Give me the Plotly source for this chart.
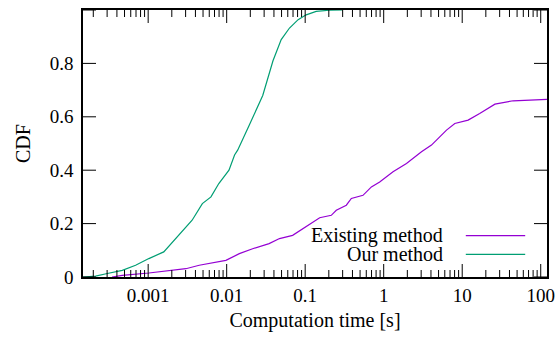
import math
import plotly.graph_objects as go

# Our method (CDF vs computation time [s])
our_x = [1.48e-4, 2.14e-4, 3.02e-4, 4.68e-4, 6.92e-4, 1.02e-3, 1.58e-3, 2.04e-3, 2.75e-3,
         3.63e-3, 4.9e-3, 6.31e-3, 7.94e-3, 1.07e-2, 1.26e-2, 1.38e-2, 1.95e-2, 2.88e-2,
         3.89e-2, 4.95e-2, 6.31e-2, 8.13e-2, 0.103, 0.138, 0.204, 0.3]
our_y = [0.0, 0.003, 0.013, 0.025, 0.044, 0.069, 0.094, 0.131, 0.175,
         0.2125, 0.275, 0.30, 0.35, 0.40, 0.457, 0.475, 0.57, 0.68,
         0.81, 0.889, 0.9325, 0.964, 0.982, 0.995, 0.999, 1.0]

# Existing method
ex_x = [3.47e-4, 4.68e-4, 1.02e-3, 2.04e-3, 3.02e-3, 4.47e-3, 6.6e-3, 9.77e-3, 1.45e-2,
        2.14e-2, 3.47e-2, 4.71e-2, 6.92e-2, 9.33e-2, 0.114, 0.153, 0.215, 0.249, 0.334, 0.387,
        0.545, 0.697, 0.889, 1.315, 1.95, 3.03, 4.06, 6.31, 8.05, 11.9, 16.7, 26.1,
        44.6, 120.0]
ex_y = [0.0, 0.006, 0.015, 0.025, 0.031, 0.044, 0.053, 0.0625, 0.0875,
        0.106, 0.125, 0.144, 0.156, 0.181, 0.2, 0.222, 0.231, 0.25, 0.269, 0.294,
        0.306, 0.3375, 0.356, 0.394, 0.425, 0.469, 0.494, 0.55, 0.575, 0.5875, 0.6125, 0.6475,
        0.66, 0.665]

x_tickvals = [0.001, 0.01, 0.1, 1, 10, 100]
x_ticktext = ["0.001", "0.01", "0.1", "1", "10", "100"]
x_minorvals = [m * 10.0 ** e for e in range(-4, 3) for m in range(2, 10)]
y_tickvals = [0, 0.2, 0.4, 0.6, 0.8, 1]
y_ticktext = ["0", "0.2", "0.4", "0.6", "0.8", "1"]

PURPLE = "#9400d3"
GREEN = "#009e73"
FONT = "Times New Roman"

W, H = 555, 338
ML, MR, MT, MB = 83, 8, 10, 61
PW, PH = W - ML - MR, H - MT - MB
XR = [-3.83, 2.08]
YR = [0, 1]
MAJ, MIN = 13, 7

fig = go.Figure()
fig.add_trace(go.Scatter(x=ex_x, y=ex_y, mode="lines", name="Existing method",
                         line=dict(color=PURPLE, width=1.2), showlegend=False))
fig.add_trace(go.Scatter(x=our_x, y=our_y, mode="lines", name="Our method",
                         line=dict(color=GREEN, width=1.2), showlegend=False))

# gnuplot-style key: right-aligned text with line sample to the right
key = [("Existing method", PURPLE, 0.155), ("Our method", GREEN, 0.085)]
for label, col, yp in key:
    fig.add_annotation(x=0.78, y=yp, xref="paper", yref="paper", text=label,
                       showarrow=False, xanchor="right", yanchor="middle",
                       font=dict(family=FONT, size=20, color="black"))
    fig.add_shape(type="line", xref="paper", yref="paper", x0=0.825, x1=0.953,
                  y0=yp, y1=yp, line=dict(color=col, width=1.2))

# inward, mirrored tick marks (gnuplot style)
tick_line = dict(color="black", width=1)
def xfrac(v):
    return (math.log10(v) - XR[0]) / (XR[1] - XR[0])
for vals, ln in ((x_tickvals, MAJ), (x_minorvals, MIN)):
    for v in vals:
        f = xfrac(v)
        if 0 < f < 1:
            fig.add_shape(type="line", xref="paper", yref="paper", x0=f, x1=f,
                          y0=0, y1=ln / PH, line=tick_line)
            fig.add_shape(type="line", xref="paper", yref="paper", x0=f, x1=f,
                          y0=1, y1=1 - ln / PH, line=tick_line)
for v in y_tickvals:
    f = (v - YR[0]) / (YR[1] - YR[0])
    fig.add_shape(type="line", xref="paper", yref="paper", x0=0, x1=MAJ / PW,
                  y0=f, y1=f, line=tick_line)
    fig.add_shape(type="line", xref="paper", yref="paper", x0=1, x1=1 - MAJ / PW,
                  y0=f, y1=f, line=tick_line)

fig.update_xaxes(type="log", range=XR, tickvals=x_tickvals, ticktext=x_ticktext,
                 ticks="", mirror=True, showline=True, linecolor="black", linewidth=1.5,
                 showgrid=False, zeroline=False,
                 tickfont=dict(family=FONT, size=19, color="black"),
                 title=dict(text="Computation time [s]", standoff=8,
                            font=dict(family=FONT, size=20, color="black")))
fig.update_yaxes(range=YR, tickvals=y_tickvals, ticktext=y_ticktext,
                 ticks="", mirror=True, showline=True, linecolor="black", linewidth=1.5,
                 showgrid=False, zeroline=False,
                 tickfont=dict(family=FONT, size=19, color="black"),
                 ticklabelstandoff=4,
                 title=dict(text="CDF", standoff=14,
                            font=dict(family=FONT, size=20, color="black")))

fig.update_layout(template="none", width=W, height=H,
                  margin=dict(l=ML, r=MR, t=MT, b=MB, autoexpand=False),
                  font=dict(family=FONT, color="black"),
                  plot_bgcolor="white", paper_bgcolor="white", showlegend=False)

fig.write_html("out.html", config={"displayModeBar": False},
               post_script="document.body.style.margin='0';")
